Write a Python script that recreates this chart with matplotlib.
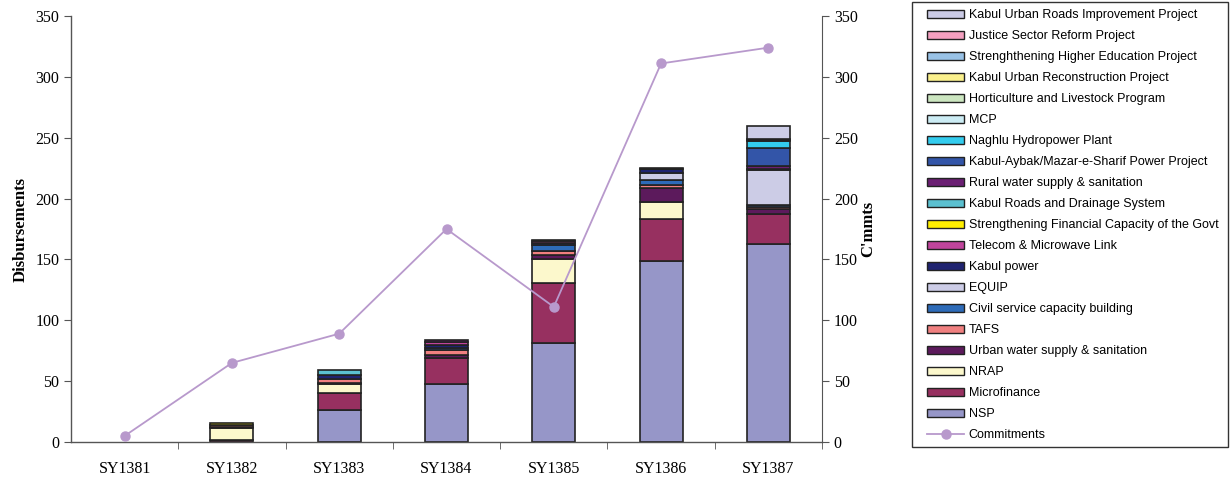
import matplotlib
matplotlib.use("Agg")
import matplotlib.pyplot as plt
import matplotlib.patches as mpatches
from matplotlib.lines import Line2D
import numpy as np

# ── data ─────────────────────────────────────────────────────────────────────
years = ["SY1381", "SY1382", "SY1383", "SY1384", "SY1385", "SY1386", "SY1387"]

nsp            = [0, 0, 26, 47.5, 81.5, 148.5, 162.5]
microfinance   = [0, 2, 14, 21.5, 49, 34.5, 24.5]
nrap           = [0, 9.5, 7.7, 0, 19.5, 14.5, 0]
urban_water    = [0, 0.8, 0.5, 2.7, 4, 11, 4.5]
tafs           = [0, 1.5, 3.5, 3.6, 3, 2.5, 1.5]
civil_service  = [0, 0, 0, 1.9, 4.5, 4, 1.5]
equip          = [0, 0, 0, 0, 0, 6, 29]
kabul_power    = [0, 0, 3, 2.2, 2, 3, 0.8]
telecom        = [0, 0, 0.5, 2.7, 1.3, 0.5, 0]
str_financial  = [0, 1.8, 0, 0, 0, 0, 0]
kabul_drainage = [0, 0, 3.7, 0, 0, 0, 0]
rural_water    = [0, 0, 0, 1.4, 1.3, 1, 2.2]
aybak_power    = [0, 0, 0, 0, 0, 0, 15]
naghlu         = [0, 0, 0, 0, 0, 0, 5.5]
mcp            = [0, 0, 0, 0, 0, 0, 0]
horticulture   = [0, 0, 0, 0, 0, 0, 1.5]
kabul_recon    = [0, 0, 0, 0, 0, 0, 0]
higher_edu     = [0, 0, 0, 0, 0, 0, 0]
justice        = [0, 0, 0, 0, 0, 0, 0.5]
kabul_roads    = [0, 0, 0, 0, 0, 0, 11]

commitments = [5, 65, 89, 175, 111, 311, 324]

# stacking order (bottom -> top): label, values, colour
series = [
    ("NSP", nsp, "#9696C8"),
    ("Microfinance", microfinance, "#973060"),
    ("NRAP", nrap, "#FCF8CC"),
    ("Urban water supply & sanitation", urban_water, "#5C1A5C"),
    ("TAFS", tafs, "#F08080"),
    ("Civil service capacity building", civil_service, "#2E6BB8"),
    ("EQUIP", equip, "#CCCCE6"),
    ("Kabul power", kabul_power, "#1F2370"),
    ("Telecom & Microwave Link", telecom, "#C0449C"),
    ("Strengthening Financial Capacity of the Govt", str_financial, "#FFEE00"),
    ("Kabul Roads and Drainage System", kabul_drainage, "#5BC0D0"),
    ("Rural water supply & sanitation", rural_water, "#6B1F73"),
    ("Kabul-Aybak/Mazar-e-Sharif Power Project", aybak_power, "#3355A8"),
    ("Naghlu Hydropower Plant", naghlu, "#33CCEE"),
    ("MCP", mcp, "#CCECF4"),
    ("Horticulture and Livestock Program", horticulture, "#CCE6C0"),
    ("Kabul Urban Reconstruction Project", kabul_recon, "#FAF08C"),
    ("Strenghthening Higher Education Project", higher_edu, "#99C2E6"),
    ("Justice Sector Reform Project", justice, "#F4A0C0"),
    ("Kabul Urban Roads Improvement Project", kabul_roads, "#CCCCE6"),
]

LINE_COLOR = "#B899CC"
EDGE = "#222222"
SERIF = "Liberation Serif"
SANS = "Liberation Sans"

# ── figure ───────────────────────────────────────────────────────────────────
fig = plt.figure(figsize=(12.31, 4.79), dpi=100)
ax = fig.add_axes([71 / 1231, 1 - 442 / 479, (822 - 71) / 1231, (442 - 16) / 479])

x = np.arange(len(years))
bottom = np.zeros(len(years))
handles = []
for label, vals, col in series:
    vals = np.array(vals, dtype=float)
    nz = vals > 0  # empty segments would still draw an edge line
    if nz.any():
        ax.bar(x[nz], vals[nz], width=0.4, bottom=bottom[nz], color=col,
               edgecolor=EDGE, linewidth=1.2, zorder=2)
    bottom += vals
    handles.append(mpatches.Patch(facecolor=col, edgecolor=EDGE, linewidth=1.0,
                                  label=label))

ax.set_xlim(-0.5, len(years) - 0.5)
ax.set_ylim(0, 350)
ax.set_yticks(range(0, 351, 50))
ax.set_xticks(x)
ax.set_xticklabels(years, fontfamily=SERIF, fontsize=11.5)
ax.set_xticks(np.arange(0.5, len(years), 1.0), minor=True)
ax.tick_params(axis="x", which="major", length=0, pad=14)
ax.tick_params(axis="x", which="minor", length=5, direction="out", color="#555555")
ax.tick_params(axis="y", length=5, direction="out", color="#555555", labelsize=11.5)
for t in ax.get_yticklabels():
    t.set_fontfamily(SERIF)
ax.set_ylabel("Disbursements", fontfamily=SERIF, fontweight="bold", fontsize=12,
              labelpad=5)
for s in ["top", "right"]:
    ax.spines[s].set_visible(False)
for s in ["left", "bottom"]:
    ax.spines[s].set_color("#555555")
    ax.spines[s].set_linewidth(1.0)

ax2 = ax.twinx()
ax2.plot(x, commitments, color=LINE_COLOR, linewidth=1.3, marker="o",
         markersize=6.5, markerfacecolor=LINE_COLOR, markeredgecolor=LINE_COLOR,
         zorder=3)
ax2.set_ylim(0, 350)
ax2.set_yticks(range(0, 351, 50))
ax2.tick_params(axis="y", length=5, direction="out", color="#555555", labelsize=11.5)
for t in ax2.get_yticklabels():
    t.set_fontfamily(SERIF)
ax2.set_ylabel("C'mmts", fontfamily=SERIF, fontweight="bold", fontsize=12,
               labelpad=2)
for s in ["top", "left", "bottom"]:
    ax2.spines[s].set_visible(False)
ax2.spines["right"].set_color("#555555")

# ── legend ───────────────────────────────────────────────────────────────────
leg_handles = handles[::-1] + [
    Line2D([0], [0], color=LINE_COLOR, linewidth=1.3, marker="o", markersize=6.5,
           markerfacecolor=LINE_COLOR, markeredgecolor=LINE_COLOR, label="Commitments")
]
leg = fig.legend(handles=leg_handles, loc="upper left",
                 bbox_to_anchor=(918 / 1231, 1 - 0 / 479), frameon=False,
                 prop={"family": SANS, "size": 9}, handlelength=2.9,
                 handleheight=0.5, handletextpad=0.4, labelspacing=0.72,
                 borderpad=0.25)
fig.patches.append(mpatches.Rectangle((912 / 1231, 1 - 447 / 479),
                                      (1228 - 912) / 1231, (447 - 2) / 479,
                                      transform=fig.transFigure, fill=False,
                                      edgecolor="#333333", linewidth=1.0))

fig.savefig("out.png", dpi=100)
